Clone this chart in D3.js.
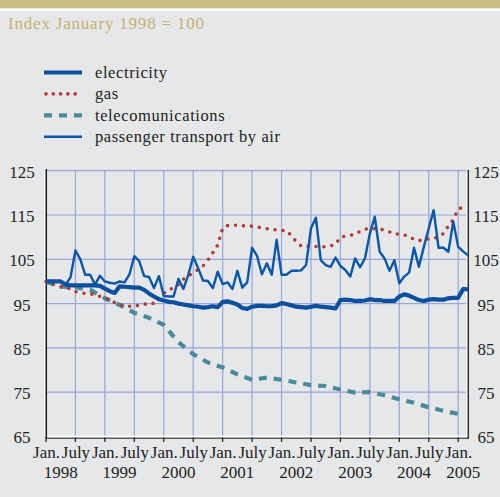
<!DOCTYPE html>
<html>
<head>
<meta charset="utf-8">
<script src="https://cdn.jsdelivr.net/npm/d3@7"></script>
<style>
  body { margin: 0; background: #e6e7e9; }
  svg { display: block; }
</style>
</head>
<body>
<div id="chart"></div>
<script>
// months counted from Jan. 1998 (0) to Mar. 2005 (86)
const months = d3.range(0, 87);

const electricity = [
  100, 100, 100, 100, 99.3, 99.1, 99.1, 99.1, 99.1, 99.1,
  99.1, 99.0, 98.4, 97.8, 97.4, 98.9, 98.8, 98.7, 98.6, 98.6,
  98.1, 97.3, 96.6, 96.0, 95.7, 95.4, 95.3, 95.0, 94.8, 94.6,
  94.4, 94.3, 94.1, 94.2, 94.4, 94.2, 95.4, 95.5, 95.2, 94.8,
  94.0, 93.8, 94.3, 94.5, 94.5, 94.4, 94.4, 94.6, 95.1, 94.9,
  94.6, 94.3, 94.2, 94.1, 94.3, 94.5, 94.3, 94.2, 94.1, 93.9,
  95.8, 95.9, 95.8, 95.6, 95.6, 95.7, 96.0, 95.8, 95.8, 95.6,
  95.6, 95.6, 96.6, 97.1, 96.8, 96.3, 95.8, 95.6, 95.9, 96.0,
  95.9, 95.9, 96.2, 96.3, 96.3, 98.3, 98.2
];

const gas = [
  100, 99.5, 99.1, 98.8, 98.6, 98.3, 97.7, 97.5, 97.3, 97.2,
  97.0, 96.6, 96.2, 95.9, 95.2, 94.8, 94.5, 94.4, 94.3, 94.7,
  94.9, 94.8, 95.1, 95.8, 97.3, 98.2, 98.5, 99.3, 100.5, 101.2,
  102.0, 102.7, 103.5, 104.8, 106.5, 108.2, 112.0, 112.6, 112.7, 112.7,
  112.6, 112.4, 112.5, 112.3, 112.1, 111.9, 111.8, 111.6, 111.5, 111.5,
  110.3, 109.0, 108.0, 107.8, 108.1, 107.9, 107.7, 107.9, 108.0, 108.4,
  110.0, 110.2, 110.4, 110.7, 111.3, 111.8, 112.0, 111.9, 111.8, 111.6,
  111.2, 110.7, 110.7, 110.5, 110.1, 109.5, 109.2, 109.5, 109.6, 109.7,
  110.1, 110.8, 112.5, 114.0, 116.3, 116.8, 117.0
];

const air = [
  100, 100, 100, 100, 99.2, 101.0, 107.0, 105.0, 101.5, 101.5,
  99.3, 101.3, 100.0, 99.7, 99.5, 100.0, 99.8, 101.6, 105.7, 104.6,
  101.2, 101.0, 98.5, 101.2, 96.7, 96.6, 96.6, 100.6, 98.3, 101.5,
  105.6, 103.0, 100.2, 100.1, 98.5, 102.2, 99.4, 99.8, 98.3, 102.4,
  98.6, 99.8, 107.6, 105.8, 101.6, 104.1, 101.5, 109.4, 101.5, 101.5,
  102.4, 102.4, 102.5, 103.7, 112.0, 114.4, 104.8, 103.7, 103.3, 105.4,
  103.5, 102.6, 101.1, 105.2, 103.2, 105.2, 110.8, 114.6, 106.7, 105.2,
  102.4, 104.8, 99.6, 101.1, 102.0, 107.6, 103.3, 107.8, 112.0, 116.1,
  107.6, 107.6, 106.7, 113.5, 107.8, 106.8, 105.9
];

const telecomMonths = [0, 3, 6, 9, 12, 15, 18, 21, 24, 27, 30, 33, 36, 39, 42,
  45, 48, 51, 54, 57, 60, 63, 66, 69, 72, 75, 78, 81, 84, 85];
const telecom = [100, 98.8, 98.7, 98.1, 96.2, 94.7, 92.9, 91.8, 90.2, 86.3,
  83.6, 81.7, 80.6, 79.0, 77.8, 78.3, 77.8, 77.2, 76.6, 76.4,
  75.6, 74.9, 75.0, 74.3, 73.4, 72.6, 71.6, 70.8, 70.1, 69.9];

const seriesNames = ["electricity", "gas", "telecomunications", "passenger transport by air"];
const tickMonths = d3.range(0, 85, 6);
const yearLabels = ["1998", "1999", "2000", "2001", "2002", "2003", "2004", "2005"];
const yTicks = [65, 75, 85, 95, 105, 115, 125];

const FONT = "Liberation Serif";
const GOLD = "#c5b272";
const GRID = "#97a5db";
const styles = {
  electricity: { color: "#0c4f9c", width: 4.2, dash: null, cap: "butt" },
  gas: { color: "#b43a30", width: 3.6, dash: "0,8", cap: "round" },
  telecomunications: { color: "#4a8b99", width: 4.2, dash: "8,7", cap: "butt" },
  "passenger transport by air": { color: "#0a57a7", width: 2.4, dash: null, cap: "butt" }
};

const svg = d3.select("#chart").append("svg")
  .attr("width", 500)
  .attr("height", 497)
  .attr("font-family", FONT);

svg.append("rect").attr("width", 500).attr("height", 497).attr("fill", "#e6e7e9");
svg.append("rect").attr("width", 500).attr("height", 8.5).attr("fill", "#cbbd84");
svg.append("rect").attr("y", 8.5).attr("width", 500).attr("height", 2.5).attr("fill", "#ffffff");

svg.append("text")
  .attr("x", 8)
  .attr("y", 28.5)
  .attr("font-size", "17px")
  .attr("letter-spacing", "0.8px")
  .attr("fill", GOLD)
  .text("Index January 1998 = 100");

// scales
const x = d3.scaleLinear().domain([0, 86]).range([46, 468]);
const y = d3.scaleLinear().domain([65, 125]).range([436.5, 170.7]);

// gridlines
const grid = svg.append("g");
grid.selectAll(".hg").data(yTicks.slice(1)).join("line")
  .attr("x1", x(0)).attr("x2", x(86))
  .attr("y1", d => y(d)).attr("y2", d => y(d))
  .attr("stroke", GRID).attr("stroke-width", 1.2);
grid.selectAll(".vg").data(tickMonths.slice(1)).join("line")
  .attr("x1", d => x(d)).attr("x2", d => x(d))
  .attr("y1", y(125)).attr("y2", y(65))
  .attr("stroke", GRID).attr("stroke-width", 1.2);

// y tick labels both sides
[22, 486].forEach(px => {
  const ax = svg.append("g")
    .attr("transform", `translate(${px},0)`)
    .call(d3.axisLeft(y).tickValues(yTicks).tickSize(0).tickPadding(0));
  ax.select(".domain").remove();
  ax.attr("font-family", FONT);
  ax.selectAll("text")
    .attr("x", 0)
    .attr("dy", "0.38em")
    .attr("text-anchor", "middle")
    .attr("font-size", "17px")
    .attr("fill", "#222");
});

// x tick labels
const xAx = svg.append("g")
  .attr("transform", `translate(0,${y(65)})`)
  .call(d3.axisBottom(x).tickValues(tickMonths).tickSize(0).tickPadding(0)
    .tickFormat(m => m % 12 === 0 ? "Jan." : "July"));
xAx.select(".domain").remove();
xAx.attr("font-family", FONT);
xAx.selectAll("text")
  .attr("y", 21.5)
  .attr("dy", 0)
  .attr("font-size", "17px")
  .attr("fill", "#222");

svg.append("g").selectAll("text").data(yearLabels).join("text")
  .attr("x", (d, i) => i < 7 ? x(i * 12 + 3) : x(84) + 5)
  .attr("y", 478)
  .attr("text-anchor", "middle")
  .attr("font-size", "17px")
  .attr("fill", "#222")
  .text(d => d);

// axis frame: white shadow + black line
const frame = svg.append("g");
frame.append("line").attr("x1", 44.8).attr("x2", 44.8).attr("y1", 169).attr("y2", 436)
  .attr("stroke", "#fff").attr("stroke-width", 1.2);
frame.append("line").attr("x1", 466.6).attr("x2", 466.6).attr("y1", 170).attr("y2", 436)
  .attr("stroke", "#fff").attr("stroke-width", 1.2);
frame.append("line").attr("x1", 45).attr("x2", 469).attr("y1", 436.4).attr("y2", 436.4)
  .attr("stroke", "#fff").attr("stroke-width", 2);
frame.append("line").attr("x1", 46.3).attr("x2", 46.3).attr("y1", 169).attr("y2", 438.5)
  .attr("stroke", "#1a1a1a").attr("stroke-width", 1.5);
frame.append("line").attr("x1", 468.3).attr("x2", 468.3).attr("y1", 170).attr("y2", 438.5)
  .attr("stroke", "#333").attr("stroke-width", 1.5);
frame.append("line").attr("x1", 46).attr("x2", 469).attr("y1", 438.2).attr("y2", 438.2)
  .attr("stroke", "#1a1a1a").attr("stroke-width", 1);
frame.selectAll(".tk").data(tickMonths).join("line")
  .attr("x1", d => x(d)).attr("x2", d => x(d))
  .attr("y1", 437.5).attr("y2", 442)
  .attr("stroke", "#1a1a1a").attr("stroke-width", 1.2);

// lines
const line = d3.line().x(d => x(d[0])).y(d => y(d[1]));
const seriesData = {
  electricity: months.map((m, i) => [m, electricity[i]]),
  gas: months.map((m, i) => [m, gas[i]]),
  telecomunications: telecomMonths.map((m, i) => [m, telecom[i]]),
  "passenger transport by air": months.map((m, i) => [m, air[i]])
};

["telecomunications", "gas", "electricity", "passenger transport by air"].forEach(name => {
  const s = styles[name];
  svg.append("path")
    .attr("d", line(seriesData[name]))
    .attr("fill", "none")
    .attr("stroke", s.color)
    .attr("stroke-width", s.width)
    .attr("stroke-linecap", s.cap)
    .attr("stroke-linejoin", "round")
    .attr("stroke-dasharray", s.dash);
});

// legend
const legend = svg.append("g");
seriesNames.forEach((name, i) => {
  const s = styles[name];
  const ly = 72.5 + i * 21.4;
  legend.append("line")
    .attr("x1", name === "gas" ? 46 : 44).attr("x2", 82)
    .attr("y1", ly).attr("y2", ly)
    .attr("stroke", s.color)
    .attr("stroke-width", name === "gas" ? 3.6 : s.width)
    .attr("stroke-linecap", s.cap)
    .attr("stroke-dasharray", name === "gas" ? "0,7.3" : s.dash);
  legend.append("text")
    .attr("x", 95)
    .attr("y", ly + 5.5)
    .attr("font-size", "16.5px")
    .attr("letter-spacing", "0.6px")
    .attr("fill", "#222")
    .text(name);
});
</script>
</body>
</html>
